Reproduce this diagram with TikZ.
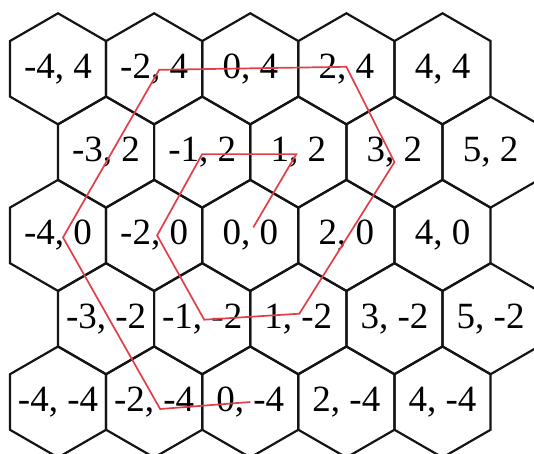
\documentclass[tikz,border=0pt]{standalone}
\usepackage{fontspec}
\setmainfont{Liberation Serif}
\usetikzlibrary{shapes.geometric}
\definecolor{hexblack}{RGB}{20,20,20}
\definecolor{pathred}{RGB}{226,62,72}

\begin{document}
\begin{tikzpicture}[x=1pt,y=-1pt,line width=2.2pt,
  hexcell/.style={draw=hexblack,regular polygon,regular polygon sides=6,
    shape border rotate=30,minimum size=111pt,inner sep=0pt,outer sep=0pt},
  hexlabel/.style={font=\fontsize{37}{40}\selectfont,inner sep=0pt}]
  \clip (0,0) rectangle (534,453);
  \foreach \r in {0,...,4}
    \foreach \c in {0,...,4}{
      \pgfmathtruncatemacro\a{2*\c-4+mod(\r,2)}
      \pgfmathtruncatemacro\b{4-2*\r}
      \node[hexcell,label={[hexlabel]center:{\a, \b}}] (h\a_\b)
        at ({58+96.13*\c+48.07*mod(\r,2)},{68.8+83.3*\r}) {};
    }
  \draw[pathred,line width=1.7pt] ([shift={(3,-8)}]h0_0.center)
    -- ([shift={(-2,2)}]h1_2.center) -- ([shift={(0,2)}]h-1_2.center)
    -- ([shift={(3,0)}]h-2_0.center) -- ([shift={(2,1)}]h-1_-2.center)
    -- ([shift={(1,-5)}]h1_-2.center) -- ([shift={(0,10)}]h3_2.center)
    -- ([shift={(0,-2)}]h2_4.center) -- ([shift={(5,1)}]h-2_4.center)
    -- ([shift={(5,2)}]h-4_0.center) -- ([shift={(6,7)}]h-2_-4.center)
    -- (h0_-4.center);
\end{tikzpicture}
\end{document}
